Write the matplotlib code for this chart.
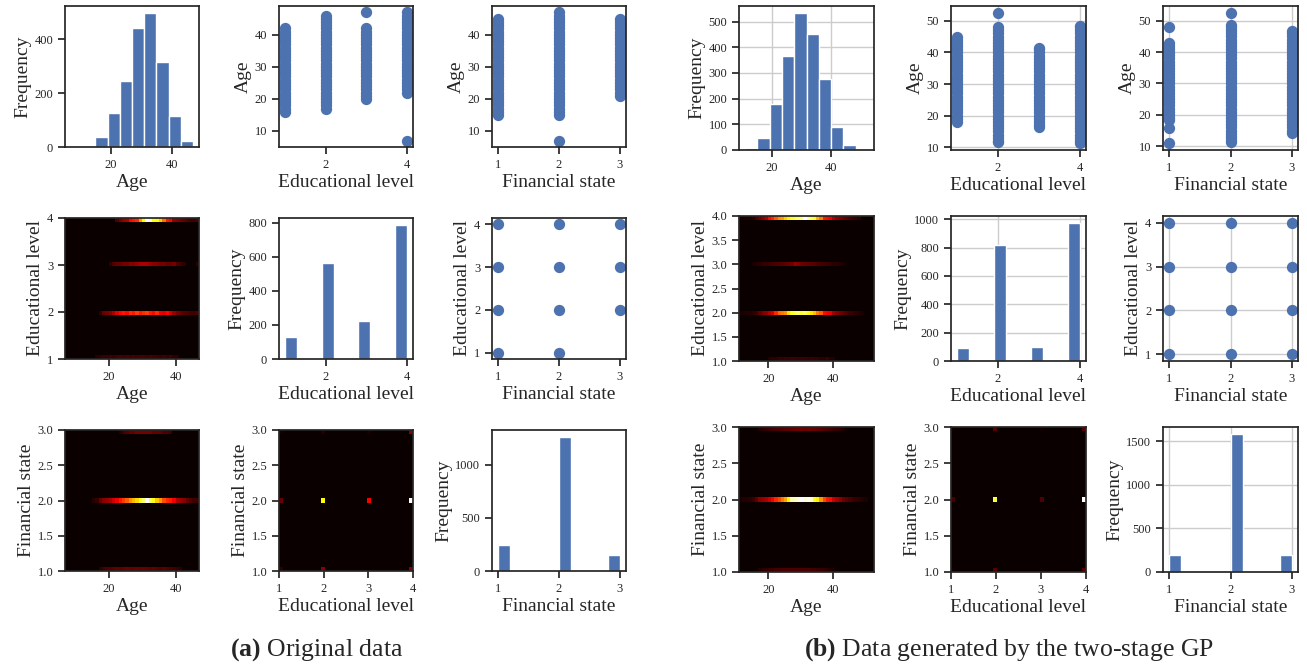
import numpy as np
import matplotlib
matplotlib.use('Agg')
import matplotlib.pyplot as plt

plt.rcParams['font.family'] = ['Liberation Serif', 'DejaVu Serif']
plt.rcParams['mathtext.fontset'] = 'custom'
plt.rcParams['mathtext.rm'] = 'Liberation Serif'
plt.rcParams['mathtext.bf'] = 'Liberation Serif:bold'
plt.rcParams['axes.edgecolor'] = '#262626'
plt.rcParams['axes.linewidth'] = 1.25
plt.rcParams['xtick.color'] = '#262626'
plt.rcParams['ytick.color'] = '#262626'
plt.rcParams['xtick.major.width'] = 1.25
plt.rcParams['ytick.major.width'] = 1.25
plt.rcParams['xtick.major.size'] = 5
plt.rcParams['ytick.major.size'] = 5
plt.rcParams['xtick.labelsize'] = 9
plt.rcParams['ytick.labelsize'] = 9
plt.rcParams['axes.labelsize'] = 14
plt.rcParams['axes.labelcolor'] = '#262626'

blue = '#4c72b0'

edu_levels = [1, 2, 3, 4]
fin_levels = [1, 2, 3]

# ---------------- (a) original data ----------------
age_range_a = (7, 47)
age_hist_a = [1, 0, 38, 126, 246, 442, 499, 316, 116, 22]
edu_hist_a = [127, 564, 222, 788]
fin_hist_a = [249, 1265, 151]

age_by_edu_a = [
    [16, 17, 18, 19, 20, 21, 22, 23, 24, 25, 26, 27, 28, 29, 30, 31, 32, 33, 34, 35, 36, 37, 38, 39, 40, 41, 42],
    [17, 18, 19, 20, 21, 22, 23, 24, 25, 26, 27, 28, 29, 30, 31, 32, 33, 34, 35, 36, 37, 38, 39, 40, 41, 42, 43, 44, 45, 46],
    [20, 21, 22, 23, 24, 25, 26, 27, 28, 29, 30, 31, 32, 33, 34, 35, 36, 37, 38, 39, 40, 41, 42, 47],
    [7, 22, 23, 24, 25, 26, 27, 28, 29, 30, 31, 32, 33, 34, 35, 36, 37, 38, 39, 40, 41, 42, 43, 44, 45, 46, 47],
]
age_by_fin_a = [
    [15, 16, 17, 18, 19, 20, 21, 22, 23, 24, 25, 26, 27, 28, 29, 30, 31, 32, 33, 34, 35, 36, 37, 38, 39, 40, 41, 42, 43, 44, 45],
    [7, 15, 16, 17, 18, 19, 20, 21, 22, 23, 24, 25, 26, 27, 28, 29, 30, 31, 32, 33, 34, 35, 36, 37, 38, 39, 40, 41, 42, 43, 44, 45, 46, 47],
    [21, 22, 23, 24, 25, 26, 27, 28, 29, 30, 31, 32, 33, 34, 35, 36, 37, 38, 39, 40, 41, 42, 43, 44, 45],
]
# (financial state, educational level) combinations present
fin_edu_pairs_a = [(1, 1), (1, 2), (1, 3), (1, 4), (2, 1), (2, 2), (2, 3), (2, 4), (3, 2), (3, 3), (3, 4)]

# heatmap counts, one value per year of age
heat_ages_a = [7, 8, 9, 10, 11, 12, 13, 14, 15, 16, 17, 18, 19, 20, 21, 22, 23, 24, 25, 26,
               27, 28, 29, 30, 31, 32, 33, 34, 35, 36, 37, 38, 39, 40, 41, 42, 43, 44, 45, 46]
heat_edu_a = [
    [0, 0, 0, 0, 0, 0, 0, 0, 0, 3, 4, 5, 5, 6, 5, 6, 7, 6, 7, 6, 7, 6, 7, 7, 6, 7, 6, 6, 5, 6, 5, 6, 4, 4, 0, 0, 0, 0, 0, 0],
    [0, 0, 0, 0, 0, 0, 0, 0, 0, 0, 4, 10, 12, 14, 18, 24, 28, 30, 28, 32, 30, 34, 30, 32, 34, 30, 28, 32, 26, 24, 28, 22, 16, 12, 10, 8, 8, 6, 6, 8],
    [0, 0, 0, 0, 0, 0, 0, 0, 0, 0, 0, 0, 0, 4, 8, 10, 10, 12, 12, 14, 14, 16, 18, 18, 18, 16, 14, 14, 12, 12, 10, 10, 12, 8, 6, 4, 0, 0, 0, 4],
    [1, 0, 0, 0, 0, 0, 0, 0, 0, 0, 0, 0, 0, 0, 0, 8, 12, 16, 18, 28, 30, 32, 45, 56, 75, 70, 58, 56, 50, 40, 30, 28, 16, 14, 12, 10, 8, 6, 6, 8],
]
heat_fin_a = [
    [0, 0, 0, 0, 0, 0, 0, 0, 0, 0, 4, 6, 8, 8, 9, 10, 9, 10, 11, 10, 10, 11, 10, 11, 10, 9, 10, 9, 8, 9, 8, 7, 6, 5, 4, 0, 0, 0, 0, 0],
    [1, 0, 0, 0, 0, 0, 0, 0, 3, 5, 10, 14, 16, 18, 22, 26, 30, 34, 38, 44, 48, 52, 58, 64, 75, 62, 58, 50, 44, 36, 32, 30, 26, 18, 16, 14, 10, 8, 6, 6],
    [0, 0, 0, 0, 0, 0, 0, 0, 0, 0, 0, 0, 0, 0, 0, 0, 3, 6, 8, 10, 10, 12, 12, 12, 12, 12, 10, 10, 10, 8, 8, 6, 0, 0, 0, 0, 0, 0, 0, 0],
]
heat_edu_fin_a = [  # rows: financial state 1..3, columns: educational level 1..4
    [30, 110, 0, 110],
    [80, 420, 200, 565],
    [10, 20, 12, 109],
]

# ---------------- (b) two-stage GP ----------------
age_range_b = (10.9, 52.6)
age_hist_b = [7, 48, 181, 367, 534, 452, 276, 90, 20, 2]
edu_hist_b = [92, 815, 102, 974]
fin_hist_b = [197, 1586, 197]

age_by_edu_b = [
    [18, 19, 20, 21, 22, 23, 24, 25, 26, 27, 28, 29, 30, 31, 32, 33, 34, 35, 36, 37, 38, 39, 40, 41, 42, 43, 44, 45],
    [11.7, 12, 13, 14, 15, 16, 17, 18, 19, 20, 21, 22, 23, 24, 25, 26, 27, 28, 29, 30, 31, 32, 33, 34, 35, 36, 37, 38, 39, 40, 41, 42, 43, 44, 45, 46, 47, 48, 52.6],
    [16.3, 17, 18, 19, 20, 21, 22, 23, 24, 25, 26, 27, 28, 29, 30, 31, 32, 33, 34, 35, 36, 37, 38, 39, 40, 41, 41.5],
    [11.2, 12, 13, 14, 15, 16, 17, 18, 19, 20, 21, 22, 23, 24, 25, 26, 27, 28, 29, 30, 31, 32, 33, 34, 35, 36, 37, 38, 39, 40, 41, 42, 43, 44, 45, 46, 47, 48, 48.5],
]
age_by_fin_b = [
    [10.9, 15.9, 18.5, 19, 20, 21, 22, 23, 24, 25, 26, 27, 28, 29, 30, 31, 32, 33, 34, 35, 36, 37, 38, 39, 40, 41, 42, 43, 47.9],
    [11.5, 12, 13, 14, 15, 16, 17, 18, 19, 20, 21, 22, 23, 24, 25, 26, 27, 28, 29, 30, 31, 32, 33, 34, 35, 36, 37, 38, 39, 40, 41, 42, 43, 44, 45, 46, 47, 48, 48.5, 52.6],
    [14.2, 15, 16, 17, 18, 19, 20, 21, 22, 23, 24, 25, 26, 27, 28, 29, 30, 31, 32, 33, 34, 35, 36, 37, 38, 39, 40, 41, 42, 43, 44, 45, 46, 46.6],
]
fin_edu_pairs_b = [(1, 1), (1, 2), (1, 3), (1, 4), (2, 1), (2, 2), (2, 3), (2, 4), (3, 1), (3, 2), (3, 3), (3, 4)]

heat_ages_b = [11, 12, 13, 14, 15, 16, 17, 18, 19, 20, 21, 22, 23, 24, 25, 26, 27, 28, 29, 30, 31,
               32, 33, 34, 35, 36, 37, 38, 39, 40, 41, 42, 43, 44, 45, 46, 47, 48, 49, 50, 51, 52]
heat_edu_b = [
    [0, 0, 0, 0, 0, 0, 0, 0, 0, 3, 4, 4, 5, 5, 6, 5, 6, 6, 5, 6, 6, 5, 6, 5, 5, 4, 4, 5, 3, 3, 0, 0, 0, 0, 0, 0, 0, 0, 0, 0, 0, 0],
    [2, 2, 3, 3, 4, 6, 10, 14, 16, 20, 24, 34, 42, 44, 46, 56, 62, 66, 68, 64, 66, 60, 56, 52, 44, 40, 30, 28, 26, 18, 14, 12, 10, 8, 6, 5, 4, 3, 2, 0, 0, 0],
    [0, 0, 0, 0, 2, 3, 4, 5, 5, 6, 7, 8, 8, 9, 10, 11, 12, 16, 14, 12, 11, 10, 10, 9, 8, 7, 6, 6, 5, 4, 4, 3, 2, 0, 0, 0, 0, 0, 0, 0, 0, 0],
    [2, 2, 3, 3, 4, 8, 12, 16, 20, 30, 34, 40, 46, 48, 54, 58, 62, 66, 68, 70, 80, 72, 66, 62, 50, 44, 32, 30, 28, 20, 16, 14, 12, 10, 8, 6, 5, 4, 0, 0, 0, 0],
]
heat_fin_b = [
    [0, 0, 0, 0, 0, 0, 3, 4, 5, 6, 6, 7, 7, 8, 8, 8, 8, 8, 8, 8, 8, 8, 7, 7, 6, 6, 5, 4, 3, 2, 0, 0, 0, 0, 0, 0, 0, 0, 0, 0, 0, 0],
    [2, 3, 3, 4, 6, 10, 16, 18, 20, 24, 30, 36, 40, 46, 52, 62, 78, 80, 82, 85, 82, 84, 80, 66, 62, 50, 40, 34, 32, 24, 20, 16, 12, 10, 8, 6, 5, 4, 3, 2, 0, 0],
    [0, 0, 0, 0, 0, 0, 3, 4, 5, 6, 7, 8, 8, 9, 10, 10, 11, 12, 12, 13, 12, 13, 12, 12, 11, 10, 9, 8, 7, 6, 5, 4, 3, 0, 0, 0, 0, 0, 0, 0, 0, 0],
]
heat_edu_fin_b = [
    [8, 90, 6, 90],
    [74, 635, 82, 795],
    [8, 90, 9, 90],
]

W, H = 1307, 667
fig = plt.figure(figsize=(W / 100, H / 100), dpi=100)


def make_ax(x0, y0, y1, w):
    return fig.add_axes([x0 / W, 1 - y1 / H, w / W, (y1 - y0) / H])


def draw_block(cols, rows, w, age_range, age_hist, edu_hist, fin_hist, age_by_edu, age_by_fin,
               pairs, heat_ages, heat_edu, heat_fin, heat_ef, age_yticks, age_hist_yticks,
               edu_hist_yticks, fin_hist_yticks, edu_heat_yticks, grid):
    axes = [[make_ax(c, r[0], r[1], w) for c in cols] for r in rows]
    nb_age = len(heat_ages)

    # Age histogram
    ax = axes[0][0]
    edges = np.linspace(age_range[0], age_range[1], len(age_hist) + 1)
    ax.hist((edges[:-1] + edges[1:]) / 2, bins=edges, weights=age_hist, color=blue,
            edgecolor='white', linewidth=1)
    span = age_range[1] - age_range[0]
    ax.set_xlim(age_range[0] - 0.05 * span, age_range[1] + 0.05 * span)
    ax.set_xticks([20, 40])
    ax.set_yticks(age_hist_yticks)
    ax.set_xlabel('Age')
    ax.set_ylabel('Frequency')

    # Age vs educational level
    ax = axes[0][1]
    for lev, ages in zip(edu_levels, age_by_edu):
        ax.scatter([lev] * len(ages), ages, s=66, color=blue, linewidth=0)
    ax.set_xticks([2, 4])
    ax.set_yticks(age_yticks)
    ax.set_xlabel('Educational level')
    ax.set_ylabel('Age')

    # Age vs financial state
    ax = axes[0][2]
    for lev, ages in zip(fin_levels, age_by_fin):
        ax.scatter([lev] * len(ages), ages, s=66, color=blue, linewidth=0)
    ax.set_xticks([1, 2, 3])
    ax.set_yticks(age_yticks)
    ax.set_xlabel('Financial state')
    ax.set_ylabel('Age')

    # Educational level vs Age heatmap
    ax = axes[1][0]
    xs, ys, ws = [], [], []
    for lev, row in zip(edu_levels, heat_edu):
        xs += heat_ages
        ys += [lev] * nb_age
        ws += row
    ax.hist2d(xs, ys, bins=[nb_age, 35], range=[age_range, (1, 4)], weights=ws, cmap='hot')
    ax.set_xticks([20, 40])
    ax.set_yticks(edu_heat_yticks)
    ax.set_xlabel('Age')
    ax.set_ylabel('Educational level')

    # Educational level histogram
    ax = axes[1][1]
    ax.hist(edu_levels, bins=10, range=(1, 4), weights=edu_hist, color=blue,
            edgecolor='white', linewidth=1)
    ax.set_xlim(0.85, 4.15)
    ax.set_xticks([2, 4])
    ax.set_yticks(edu_hist_yticks)
    ax.set_xlabel('Educational level')
    ax.set_ylabel('Frequency')

    # Educational level vs financial state
    ax = axes[1][2]
    ax.scatter([p[0] for p in pairs], [p[1] for p in pairs], s=66, color=blue, linewidth=0)
    ax.set_xlim(0.9, 3.1)
    ax.set_ylim(0.85, 4.15)
    ax.set_xticks([1, 2, 3])
    ax.set_yticks([1, 2, 3, 4])
    ax.set_xlabel('Financial state')
    ax.set_ylabel('Educational level')

    # Financial state vs Age heatmap
    ax = axes[2][0]
    xs, ys, ws = [], [], []
    for lev, row in zip(fin_levels, heat_fin):
        xs += heat_ages
        ys += [lev] * nb_age
        ws += row
    ax.hist2d(xs, ys, bins=[nb_age, 35], range=[age_range, (1, 3)], weights=ws, cmap='hot')
    ax.set_xticks([20, 40])
    ax.set_yticks([1.0, 1.5, 2.0, 2.5, 3.0])
    ax.set_xlabel('Age')
    ax.set_ylabel('Financial state')

    # Financial state vs educational level heatmap
    ax = axes[2][1]
    xs, ys, ws = [], [], []
    for lev, row in zip(fin_levels, heat_ef):
        xs += edu_levels
        ys += [lev] * 4
        ws += row
    ax.hist2d(xs, ys, bins=[35, 35], range=[(1, 4), (1, 3)], weights=ws, cmap='hot')
    ax.set_xticks([1, 2, 3, 4])
    ax.set_yticks([1.0, 1.5, 2.0, 2.5, 3.0])
    ax.set_xlabel('Educational level')
    ax.set_ylabel('Financial state')

    # Financial state histogram
    ax = axes[2][2]
    ax.hist(fin_levels, bins=10, range=(1, 3), weights=fin_hist, color=blue,
            edgecolor='white', linewidth=1)
    ax.set_xlim(0.9, 3.1)
    ax.set_xticks([1, 2, 3])
    ax.set_yticks(fin_hist_yticks)
    ax.set_xlabel('Financial state')
    ax.set_ylabel('Frequency')

    for i, row in enumerate(axes):
        for j, ax in enumerate(row):
            ax.xaxis.labelpad = 2
            ax.yaxis.labelpad = 2
            is_heat = (i == 1 and j == 0) or (i == 2 and j < 2)
            if grid and not is_heat:
                ax.set_axisbelow(True)
                ax.grid(True, color='#cccccc', linewidth=1)
    return axes


draw_block([65, 279, 492], [(6, 147), (218, 359), (430, 571)], 134,
           age_range_a, age_hist_a, edu_hist_a, fin_hist_a, age_by_edu_a, age_by_fin_a,
           fin_edu_pairs_a, heat_ages_a, heat_edu_a, heat_fin_a, heat_edu_fin_a,
           [10, 20, 30, 40], [0, 200, 400], [0, 200, 400, 600, 800], [0, 500, 1000],
           [1, 2, 3, 4], False)

draw_block([739, 951, 1163], [(6, 150), (216, 361), (427, 572)], 135,
           age_range_b, age_hist_b, edu_hist_b, fin_hist_b, age_by_edu_b, age_by_fin_b,
           fin_edu_pairs_b, heat_ages_b, heat_edu_b, heat_fin_b, heat_edu_fin_b,
           [10, 20, 30, 40, 50], [0, 100, 200, 300, 400, 500], [0, 200, 400, 600, 800, 1000],
           [0, 500, 1000, 1500], [1.0, 1.5, 2.0, 2.5, 3.0, 3.5, 4.0], True)

fig.text(317 / W, 1 - 650 / H, r'$\mathbf{(a)}$ Original data', ha='center', va='center',
         fontsize=18.5, color='#262626')
fig.text(1009 / W, 1 - 650 / H, r'$\mathbf{(b)}$ Data generated by the two-stage GP',
         ha='center', va='center', fontsize=18.5, color='#262626')

fig.savefig('out.png', dpi=100)
